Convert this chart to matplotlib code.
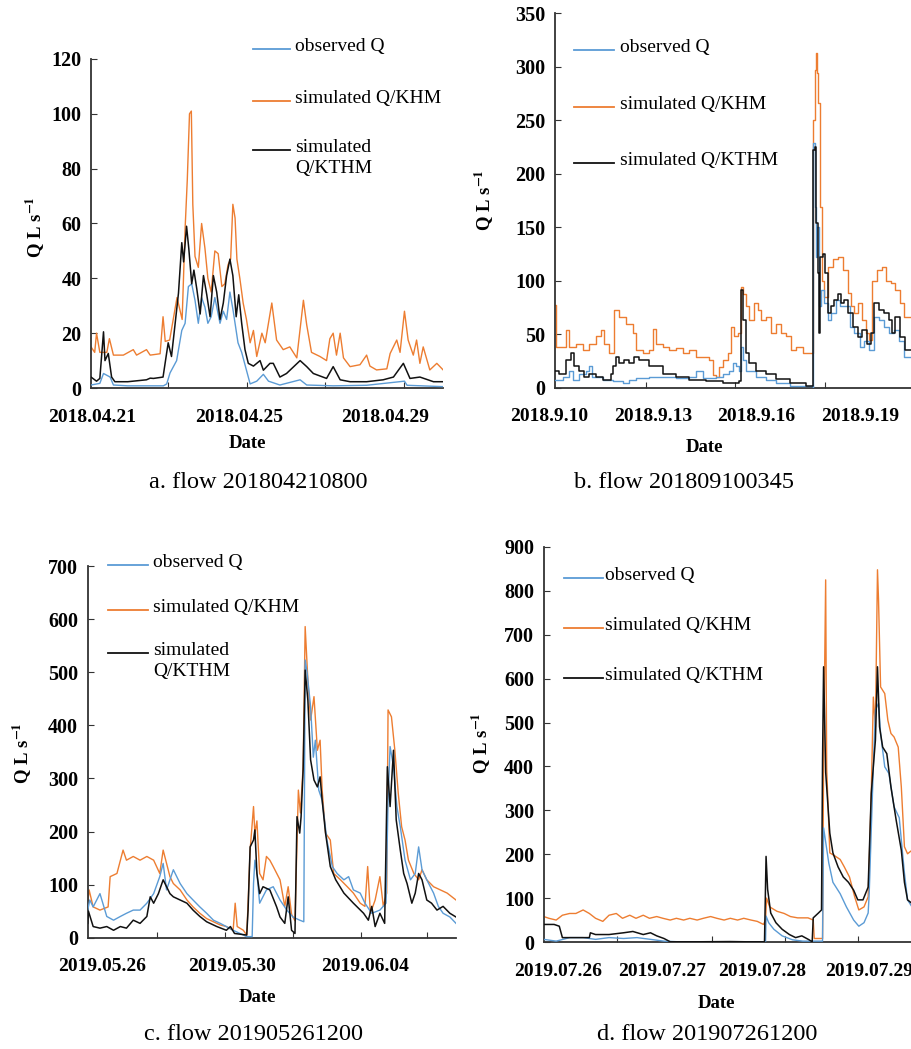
import matplotlib
matplotlib.use('Agg')
import matplotlib.pyplot as plt
from matplotlib.lines import Line2D

plt.rcParams['font.family'] = ['Liberation Serif', 'DejaVu Serif']
plt.rcParams['mathtext.fontset'] = 'stix'

# ---- data (time in days from panel start, Q in L/s) ----
series_names = ['observed Q', 'simulated Q/KHM', 'simulated Q/KTHM']
series_colors = ['#5B9BD5', '#ED7D31', '#111111']

# a. flow 201804210800
a_obs_t = [0.00, 0.24, 0.34, 0.52, 0.61, 1.00, 1.50, 1.97, 2.06, 2.15, 2.33, 2.47, 2.56, 2.65, 2.74, 2.83,
           2.92, 3.01, 3.10, 3.18, 3.27, 3.37, 3.51, 3.60, 3.69, 3.78, 3.87, 4.00, 4.10, 4.23, 4.33, 4.51,
           4.69, 4.83, 5.14, 5.69, 5.87, 6.59, 7.50, 8.53, 8.60, 9.59]
a_obs = [1.1, 1.7, 5.3, 4.0, 1.1, 0.8, 0.8, 0.8, 1.5, 5.5, 10, 21, 23.6, 37, 38, 32,
         23.6, 33, 29.5, 23.6, 26, 33, 23.6, 28, 25, 35, 28, 16.5, 13, 6.5, 1.5, 2.5,
         5, 2.5, 1.1, 3, 1.1, 0.8, 1.0, 2.5, 1.0, 0.5]
a_khm_t = [0.00, 0.10, 0.15, 0.24, 0.43, 0.50, 0.61, 0.88, 1.15, 1.24, 1.51, 1.61, 1.88, 1.96, 2.02, 2.14,
           2.34, 2.48, 2.56, 2.62, 2.68, 2.73, 2.77, 2.83, 2.92, 3.01, 3.10, 3.18, 3.27, 3.37, 3.46, 3.56,
           3.64, 3.73, 3.80, 3.86, 3.92, 3.97, 4.05, 4.14, 4.23, 4.33, 4.42, 4.51, 4.65, 4.74, 4.92, 5.05,
           5.23, 5.41, 5.60, 5.78, 5.87, 6.00, 6.23, 6.41, 6.50, 6.59, 6.68, 6.78, 6.87, 7.05, 7.32, 7.50,
           7.59, 7.77, 8.05, 8.14, 8.32, 8.41, 8.53, 8.63, 8.77, 8.86, 8.95, 9.04, 9.22, 9.41, 9.59]
a_khm = [15, 13, 20, 13, 13, 18, 12, 12, 14, 12, 14, 12, 12.5, 26, 17, 17.5,
         33, 25, 58, 76, 100, 101, 67, 48, 44, 60, 51, 40, 35, 50, 49, 37,
         38, 45, 47, 67, 62, 47, 40, 31, 25, 16.5, 21, 11.5, 20, 16.5, 31, 17.5,
         14, 15, 11, 32, 23, 13, 11.5, 10, 18, 20, 12, 20, 11, 7.8, 8.5, 12,
         8, 6.6, 7, 12.6, 17.5, 13, 28, 17.5, 12, 17.5, 9, 15, 6.6, 9, 6.5]
a_kthm_t = [0.00, 0.15, 0.24, 0.34, 0.38, 0.47, 0.56, 0.65, 1.00, 1.51, 1.61, 1.70, 1.96, 2.10, 2.19, 2.29,
            2.38, 2.47, 2.52, 2.60, 2.66, 2.74, 2.80, 2.88, 2.97, 3.06, 3.15, 3.24, 3.33, 3.42, 3.51, 3.60,
            3.69, 3.78, 3.86, 3.95, 4.02, 4.10, 4.19, 4.28, 4.42, 4.60, 4.69, 4.87, 4.96, 5.14, 5.32, 5.69,
            5.87, 6.05, 6.41, 6.59, 6.78, 7.05, 7.50, 7.95, 8.23, 8.50, 8.68, 8.95, 9.32, 9.59]
a_kthm = [4, 2.5, 3.5, 20.5, 10, 12.6, 4, 2.3, 2.3, 3, 3.6, 3.5, 4, 16.5, 11.5, 23.6,
          34.6, 53, 46, 59, 51, 38, 43, 36, 27, 41, 34, 26, 41, 35, 25, 31,
          41, 47, 41, 26, 34, 23.6, 14, 9, 8, 10, 6.5, 9, 9, 4, 5.3, 10,
          7.8, 5.3, 3.5, 7.8, 3, 2.3, 2.3, 3, 4, 9, 3.5, 4, 2.3, 2.3]

# b. flow 201809100345
b_obs_t = [0.165, 0.39, 0.58, 0.68, 0.87, 1.06, 1.16, 1.25, 1.55, 1.84, 2.13, 2.32, 2.51, 2.90, 3.29, 3.67,
           4.06, 4.25, 4.44, 4.83, 5.02, 5.22, 5.31, 5.41, 5.51, 5.56, 5.60, 5.70, 5.99, 6.28, 6.57, 6.96,
           7.63, 7.65, 7.69, 7.72, 7.75, 7.82, 7.88, 7.97, 8.07, 8.17, 8.31, 8.41, 8.55, 8.70, 8.84, 8.99,
           9.12, 9.26, 9.41, 9.55, 9.70, 9.84, 9.99, 10.12, 10.27, 10.51]
b_obs = [7, 10, 16, 7, 13, 16, 20, 10, 7, 6, 4, 7, 9, 10, 10, 9,
         10, 16, 9, 10, 13, 16, 23, 20, 16, 38, 26, 16, 10, 7, 4, 1.5,
         1, 229, 169, 122, 150, 76, 91, 79, 63, 70, 82, 76, 76, 57, 51, 38,
         44, 35, 66, 63, 57, 51, 54, 44, 29, 35]
b_khm_t = [0.165, 0.19, 0.39, 0.48, 0.58, 0.77, 0.97, 1.16, 1.35, 1.50, 1.59, 1.74, 1.88, 2.03, 2.22, 2.42,
           2.51, 2.71, 2.90, 2.99, 3.09, 3.29, 3.48, 3.67, 3.86, 4.06, 4.25, 4.44, 4.64, 4.73, 4.83, 4.93,
           5.02, 5.17, 5.27, 5.36, 5.46, 5.56, 5.62, 5.70, 5.80, 5.94, 6.04, 6.14, 6.28, 6.43, 6.57, 6.71,
           6.86, 7.00, 7.15, 7.34, 7.63, 7.64, 7.65, 7.69, 7.72, 7.75, 7.78, 7.84, 7.90, 7.97, 8.07, 8.21,
           8.36, 8.50, 8.65, 8.74, 8.84, 8.94, 9.07, 9.17, 9.26, 9.36, 9.50, 9.65, 9.75, 9.89, 10.03, 10.17,
           10.27, 10.51]
b_khm = [77, 38, 38, 54, 38, 41, 35, 41, 48, 54, 41, 32, 73, 66, 60, 51,
         35, 32, 35, 55, 41, 38, 35, 37, 32, 35, 29, 29, 26, 12, 10, 19,
         26, 32, 57, 48, 51, 94, 88, 76, 63, 79, 73, 63, 66, 51, 60, 51,
         48, 35, 38, 32, 32, 48, 250, 297, 313, 294, 266, 169, 100, 85, 113, 120,
         122, 110, 89, 76, 70, 79, 63, 51, 45, 100, 110, 113, 100, 98, 91, 79,
         66, 66]
b_kthm_t = [0.165, 0.29, 0.48, 0.63, 0.72, 0.87, 1.01, 1.16, 1.35, 1.55, 1.74, 1.79, 1.84, 1.93, 2.03, 2.17,
            2.32, 2.46, 2.61, 2.90, 3.29, 3.67, 4.06, 4.54, 5.02, 5.51, 5.56, 5.60, 5.70, 5.80, 5.99, 6.28,
            6.57, 6.96, 7.44, 7.63, 7.65, 7.69, 7.74, 7.79, 7.82, 7.84, 7.92, 7.99, 8.07, 8.17, 8.26, 8.36,
            8.46, 8.55, 8.65, 8.79, 8.94, 9.07, 9.22, 9.32, 9.41, 9.55, 9.70, 9.84, 9.94, 10.03, 10.17, 10.32,
            10.51]
b_kthm = [16, 13, 26, 32, 20, 16, 10, 13, 10, 7, 7, 13, 20, 29, 23, 26,
          23, 29, 26, 20, 13, 10, 7, 6, 4, 6, 91, 63, 32, 23, 16, 13,
          8, 4, 1.5, 1.5, 222, 225, 154, 107, 51, 122, 125, 107, 70, 76, 82, 88,
          79, 82, 70, 57, 47, 54, 41, 51, 79, 73, 70, 63, 51, 66, 47, 35,
          38]

# c. flow 201905261200
c_obs_t = [0.00, 0.03, 0.08, 0.18, 0.28, 0.38, 0.48, 0.57, 0.67, 0.77, 0.87, 0.97, 1.06, 1.11, 1.16, 1.26,
           1.36, 1.46, 1.55, 1.65, 1.75, 1.85, 1.95, 2.04, 2.14, 2.24, 2.34, 2.42, 2.44, 2.46, 2.49, 2.53,
           2.63, 2.73, 2.83, 2.93, 3.02, 3.12, 3.18, 3.20, 3.23, 3.28, 3.32, 3.35, 3.40, 3.45, 3.52, 3.60,
           3.67, 3.77, 3.84, 3.91, 4.01, 4.08, 4.18, 4.30, 4.39, 4.42, 4.45, 4.50, 4.55, 4.60, 4.67, 4.75,
           4.82, 4.87, 4.92, 4.99, 5.09, 5.16, 5.23, 5.33, 5.42]
c_obs = [52, 71, 58, 83, 40, 33, 40, 46, 52, 52, 65, 83, 115, 140, 90, 128,
         102, 83, 71, 58, 46, 33, 27, 21, 14, 8, 2, 2, 102, 146, 121, 65,
         90, 96, 71, 52, 39, 33, 30, 523, 498, 435, 340, 372, 278, 259, 184, 134,
         121, 109, 115, 90, 84, 65, 46, 52, 65, 259, 360, 322, 247, 209, 146, 109,
         121, 171, 128, 109, 84, 59, 46, 39, 27]
c_khm_t = [0.00, 0.02, 0.08, 0.18, 0.30, 0.33, 0.43, 0.52, 0.57, 0.67, 0.77, 0.87, 0.97, 1.06, 1.11, 1.16,
           1.21, 1.26, 1.36, 1.46, 1.55, 1.65, 1.75, 1.85, 1.95, 2.04, 2.14, 2.17, 2.20, 2.29, 2.34, 2.36,
           2.39, 2.44, 2.46, 2.49, 2.53, 2.58, 2.63, 2.68, 2.73, 2.83, 2.90, 2.95, 3.00, 3.05, 3.10, 3.13,
           3.17, 3.20, 3.24, 3.28, 3.33, 3.38, 3.42, 3.45, 3.50, 3.57, 3.62, 3.72, 3.82, 3.91, 4.01, 4.08,
           4.12, 4.16, 4.23, 4.30, 4.35, 4.40, 4.42, 4.47, 4.52, 4.57, 4.62, 4.67, 4.72, 4.80, 4.87, 4.92,
           4.99, 5.09, 5.19, 5.29, 5.42]
c_khm = [65, 90, 58, 52, 58, 115, 121, 165, 146, 153, 146, 153, 146, 121, 165, 140,
         115, 102, 90, 71, 58, 46, 36, 30, 24, 21, 14, 65, 21, 14, 5, 65,
         165, 247, 196, 220, 121, 109, 153, 146, 134, 109, 59, 96, 44, 32, 278, 235,
         322, 586, 485, 410, 454, 353, 372, 278, 197, 184, 121, 109, 96, 84, 65, 59,
         134, 46, 71, 115, 59, 84, 429, 416, 353, 272, 209, 184, 146, 121, 109, 128,
         109, 96, 90, 84, 71]
c_kthm_t = [0.00, 0.01, 0.08, 0.18, 0.28, 0.38, 0.48, 0.57, 0.67, 0.77, 0.87, 0.92, 0.97, 1.04, 1.11, 1.16,
            1.21, 1.26, 1.36, 1.46, 1.55, 1.65, 1.75, 1.90, 2.04, 2.10, 2.16, 2.34, 2.36, 2.39, 2.44, 2.46,
            2.49, 2.53, 2.58, 2.68, 2.78, 2.83, 2.90, 2.95, 3.00, 3.05, 3.08, 3.12, 3.14, 3.17, 3.20, 3.24,
            3.28, 3.33, 3.38, 3.42, 3.45, 3.50, 3.57, 3.65, 3.77, 3.91, 4.06, 4.13, 4.18, 4.23, 4.30, 4.37,
            4.41, 4.45, 4.50, 4.54, 4.60, 4.65, 4.70, 4.77, 4.82, 4.87, 4.92, 4.99, 5.06, 5.14, 5.23, 5.33,
            5.42]
c_kthm = [27, 50, 21, 18, 21, 14, 21, 18, 33, 27, 40, 77, 65, 83, 109, 96,
          83, 77, 71, 65, 52, 40, 30, 21, 14, 21, 8, 5, 52, 171, 184, 203,
          121, 83, 96, 90, 58, 39, 27, 77, 14, 8, 228, 197, 228, 316, 504, 447,
          335, 297, 284, 303, 259, 197, 134, 109, 84, 65, 46, 33, 59, 21, 46, 27,
          322, 247, 353, 222, 165, 121, 102, 65, 84, 121, 109, 71, 65, 52, 59, 46,
          39]

# d. flow 201907261200
d_obs_t = [0.00, 0.12, 0.25, 0.38, 0.50, 0.63, 0.77, 0.90, 1.03, 1.16, 1.30, 2.14, 2.145, 2.17, 2.22, 2.30,
           2.40, 2.50, 2.69, 2.70, 2.75, 2.79, 2.86, 2.92, 2.99, 3.04, 3.09, 3.13, 3.14, 3.18, 3.20, 3.23,
           3.25, 3.29, 3.33, 3.38, 3.43, 3.48, 3.51, 3.553]
d_obs = [6, 2, 10, 10, 6, 10, 8, 10, 6, 2, 0.5, 0.5, 59, 44, 29, 14,
         5, 2, 2, 260, 180, 136, 110, 80, 50, 36, 44, 66, 110, 400, 528, 544,
         475, 399, 384, 308, 283, 157, 96, 80]
d_khm_t = [0.00, 0.05, 0.12, 0.18, 0.25, 0.31, 0.38, 0.44, 0.50, 0.57, 0.63, 0.70, 0.76, 0.83, 0.89, 0.96,
           1.02, 1.09, 1.15, 1.22, 1.28, 1.35, 1.41, 1.48, 1.54, 1.61, 1.67, 1.74, 1.80, 1.87, 1.93, 2.00,
           2.06, 2.12, 2.14, 2.15, 2.18, 2.25, 2.32, 2.38, 2.45, 2.55, 2.60, 2.61, 2.69, 2.70, 2.72, 2.73,
           2.76, 2.81, 2.86, 2.90, 2.95, 3.00, 3.04, 3.09, 3.13, 3.16, 3.18, 3.20, 3.22, 3.23, 3.25, 3.29,
           3.32, 3.35, 3.38, 3.42, 3.45, 3.48, 3.51, 3.553]
d_khm = [58, 54, 50, 61, 65, 65, 73, 65, 54, 47, 61, 65, 54, 61, 54, 61,
         54, 58, 54, 50, 54, 50, 54, 50, 54, 58, 54, 50, 54, 50, 54, 50,
         47, 40, 50, 100, 80, 70, 65, 58, 55, 55, 50, 8, 8, 415, 825, 395,
         203, 196, 188, 171, 148, 103, 73, 80, 103, 339, 558, 490, 848, 780, 581, 566,
         505, 475, 467, 444, 353, 217, 201, 209]
d_kthm_t = [0.00, 0.10, 0.15, 0.18, 0.30, 0.44, 0.45, 0.50, 0.63, 0.77, 0.86, 0.96, 1.03, 1.09, 1.16, 1.22,
            1.50, 1.80, 1.95, 2.13, 2.145, 2.16, 2.19, 2.24, 2.30, 2.37, 2.43, 2.49, 2.56, 2.59, 2.60, 2.65,
            2.68, 2.69, 2.70, 2.72, 2.76, 2.79, 2.84, 2.89, 2.94, 2.99, 3.03, 3.08, 3.13, 3.16, 3.20, 3.22,
            3.24, 3.27, 3.31, 3.35, 3.40, 3.45, 3.48, 3.51, 3.553]
d_kthm = [40, 40, 36, 10, 10, 10, 21, 17, 17, 21, 24, 17, 21, 14, 8, 0.5,
          0.5, 1, 0.5, 0.5, 195, 120, 66, 44, 29, 17, 10, 14, 5, 0.5, 55, 66,
          73, 415, 627, 387, 248, 203, 171, 148, 136, 118, 96, 96, 125, 339, 460, 627,
          490, 444, 429, 353, 278, 209, 136, 96, 88]

# ---- layout helpers (pixel positions of the 912x1049 reference) ----
W, H = 912, 1049
fig = plt.figure(figsize=(9.12, 10.49), dpi=100)


def fx(px):
    return px / W


def fy(py):
    return 1 - py / H


def draw_panel(rect, data, xlim, ymax, ystep, date_pos, date_labels, tick_marks,
               leg, ylab_xy, date_xy, caption, caption_xy, style='default'):
    ax = fig.add_axes(rect)
    obs_t, obs, khm_t, khm, kthm_t, kthm = data
    ax.plot(khm_t, khm, color=series_colors[1], lw=1.0, zorder=2, drawstyle=style)
    ax.plot(obs_t, obs, color=series_colors[0], lw=1.0, zorder=3, drawstyle=style)
    ax.plot(kthm_t, kthm, color=series_colors[2], lw=1.1, zorder=4, drawstyle=style)
    ax.set_xlim(*xlim)
    ax.set_ylim(0, ymax)
    for s in ['top', 'right']:
        ax.spines[s].set_visible(False)
    for s in ['left', 'bottom']:
        ax.spines[s].set_color('#333333')
        ax.spines[s].set_linewidth(1.3)
    ax.set_yticks(range(0, ymax + 1, ystep))
    ax.tick_params(axis='y', direction='in', length=4, pad=7, labelsize=14.5, color='#333333')
    for lab in ax.get_yticklabels():
        lab.set_fontweight('bold')
    ax.set_xticks(tick_marks)
    ax.tick_params(axis='x', direction='in', length=4, labelbottom=False, color='#333333')
    for p, lab in zip(date_pos, date_labels):
        ax.annotate(lab, xy=(p, 0), xycoords=('data', 'axes fraction'), xytext=(0, -29),
                    textcoords='offset pixels', ha='center', va='center', fontsize=14,
                    fontweight='bold', annotation_clip=False)
    # legend drawn by hand to match the loose spacing of the original
    lx0, lx1, tx, rows, wrap = leg
    for i, (name, col, ry) in enumerate(zip(series_names, series_colors, rows)):
        fig.add_artist(Line2D([fx(lx0), fx(lx1)], [fy(ry), fy(ry)], color=col, lw=1.3,
                              transform=fig.transFigure))
        text = name.replace(' Q/', '\nQ/') if (wrap and i == 2) else name
        fig.text(fx(tx), fy(ry - 11), text, ha='left', va='top', fontsize=14, linespacing=1.3)
    fig.text(fx(ylab_xy[0]), fy(ylab_xy[1]), r'Q L s$^{\mathbf{-1}}$', rotation=90,
             ha='center', va='center', fontsize=13.5, fontweight='bold')
    fig.text(fx(date_xy[0]), fy(date_xy[1]), 'Date', ha='center', va='center',
             fontsize=13.5, fontweight='bold')
    fig.text(fx(caption_xy[0]), fy(caption_xy[1]), caption, ha='center', va='center', fontsize=17.5)
    return ax


draw_panel([0.0998, 0.6301, 0.3860, 0.3137],
           (a_obs_t, a_obs, a_khm_t, a_khm, a_kthm_t, a_kthm),
           (0, 9.58), 120, 20,
           [0.03, 4.03, 8.0], ['2018.04.21', '2018.04.25', '2018.04.29'],
           [2.10, 4.25, 6.37, 8.52],
           (253, 290, 295, [49, 101, 150], True),
           (35, 227), (247, 443), 'a. flow 201804210800', (258, 483))

draw_panel([0.6086, 0.6304, 0.3914, 0.3569],
           (b_obs_t, b_obs, b_khm_t, b_khm, b_kthm_t, b_kthm),
           (0.165, 10.51), 350, 50,
           [0.0, 3.0, 6.0, 9.0], ['2018.9.10', '2018.9.13', '2018.9.16', '2018.9.19'],
           [2.80, 5.38, 7.99],
           (574, 614, 620, [50, 107, 163], False),
           (484, 200), (704, 447), 'b. flow 201809100345', (684, 483), style='steps-post')

draw_panel([0.0962, 0.1061, 0.4038, 0.3543],
           (c_obs_t, c_obs, c_khm_t, c_khm, c_kthm_t, c_kthm),
           (0, 5.42), 700, 100,
           [0.21, 2.12, 4.08], ['2019.05.26', '2019.05.30', '2019.06.04'],
           [1.02, 2.02, 3.02, 4.02, 5.0],
           (108, 148, 153, [565, 610, 653], True),
           (22, 753), (257, 998), 'c. flow 201905261200', (254, 1035))

draw_panel([0.5962, 0.1020, 0.4038, 0.3766],
           (d_obs_t, d_obs, d_khm_t, d_khm, d_kthm_t, d_kthm),
           (0, 3.553), 900, 100,
           [0.14, 1.14, 2.11, 3.14], ['2019.07.26', '2019.07.27', '2019.07.28', '2019.07.29'],
           [0.71, 1.62, 2.33, 3.03],
           (564, 603, 605, [578, 628, 678], False),
           (481, 743), (716, 1003), 'd. flow 201907261200', (707, 1035))

fig.savefig('out.png', dpi=100)
